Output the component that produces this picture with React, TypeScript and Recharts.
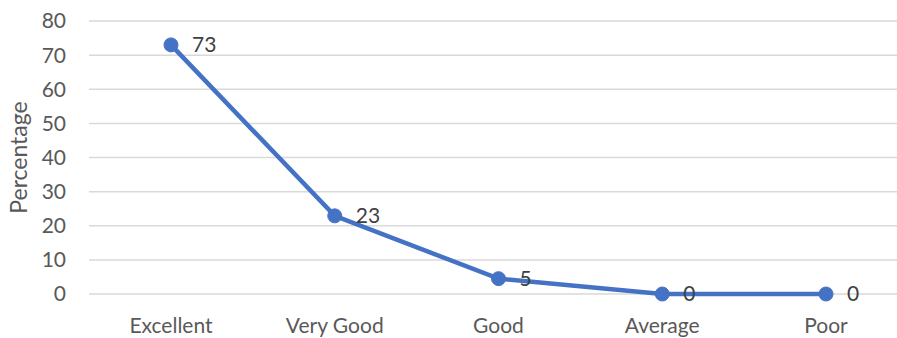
import React from 'react';
import { LineChart, Line, XAxis, YAxis, CartesianGrid, LabelList } from 'recharts';

const categories = ['Excellent', 'Very Good', 'Good', 'Average', 'Poor'];
const percentages = [73, 22.9, 4.5, 0, 0];
const yTicks = [0, 10, 20, 30, 40, 50, 60, 70, 80];

const data = categories.map((name, i) => ({ name, value: percentages[i] }));

const FONT = 'Lato, "Open Sans", sans-serif';
const FS = 21;

export default function App() {
  return (
    <div style={{ position: 'absolute', left: 0, top: 0, width: 897, height: 338, overflow: 'hidden', background: '#fff' }}>
      <LineChart width={910} height={338} data={data} margin={{ top: 21, right: 2, bottom: 0, left: 0 }}>
        <CartesianGrid vertical={false} stroke="#d9d9d9" strokeWidth={1.5} />
        <XAxis
          dataKey="name"
          axisLine={false}
          tickLine={false}
          tickSize={0}
          tickMargin={24}
          height={44}
          interval={0}
          padding={{ left: 82, right: 82 }}
          tick={{ fill: '#595959', fontSize: FS, fontFamily: FONT }}
        />
        <YAxis
          domain={[0, 80]}
          ticks={yTicks}
          axisLine={false}
          tickLine={false}
          tickSize={0}
          tickMargin={23}
          width={89}
          tick={{ fill: '#595959', fontSize: FS, fontFamily: FONT }}
          label={{
            content: (props: any) => {
              const vb = props.viewBox || {};
              const cx = 18;
              const cy = vb.y + vb.height / 2;
              return (
                <text
                  x={cx}
                  y={cy}
                  transform={`rotate(-90, ${cx}, ${cy})`}
                  textAnchor="middle"
                  dominantBaseline="central"
                  fill="#595959"
                  fontSize={23}
                  fontFamily={FONT}
                >
                  Percentage
                </text>
              );
            },
          }}
        />
        <Line
          type="linear"
          dataKey="value"
          stroke="#4472C4"
          strokeWidth={4.5}
          dot={{ r: 7, fill: '#4472C4', stroke: '#4472C4', strokeWidth: 1 }}
          isAnimationActive={false}
        >
          <LabelList
            dataKey="value"
            position="right"
            offset={21}
            formatter={(v: any) => String(Math.round(Number(v)))}
            style={{ fill: '#404040', fontSize: FS, fontFamily: FONT }}
          />
        </Line>
      </LineChart>
    </div>
  );
}
